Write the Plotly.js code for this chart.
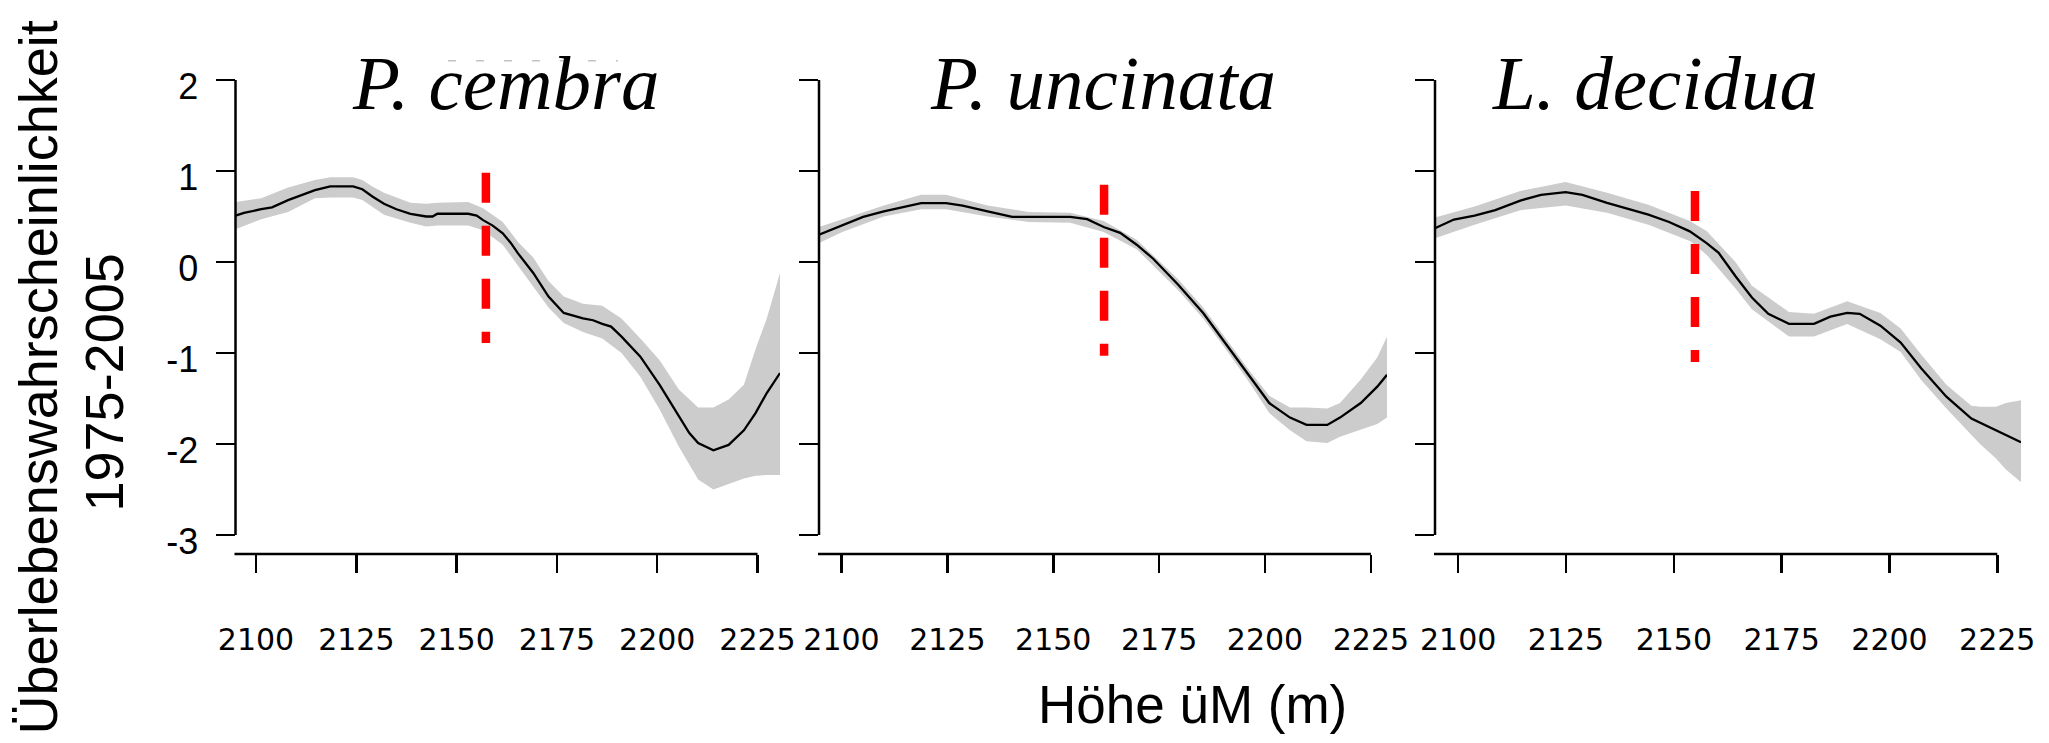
<!DOCTYPE html>
<html><head><meta charset="utf-8">
<script src="https://cdn.plot.ly/plotly-3.0.1.min.js"></script>
<style>html,body{margin:0;padding:0;background:#fff;}</style>
</head><body>
<div id="chart" style="width:2049px;height:743px;"></div>
<script>
// ---------------- DATA ----------------
const speciesNames = ['P. cembra', 'P. uncinata', 'L. decidua'];

// P. cembra: fitted survival curve
const cembraX   = [2094.9,2097,2101.3,2104,2108,2111,2114.7,2118.5,2124.2,2126.5,2129,2131.9,2135,2138.5,2141,2142.4,2144,2145.2,2152.9,2155,2156.6,2159,2161.5,2163.5,2165.3,2169.1,2172.9,2176.7,2181.5,2184,2186.3,2188.5,2191.1,2195.8,2200.6,2205.4,2208,2210.2,2214,2217.8,2221.6,2224.5,2227.3,2230.6];
const cembraFit = [0.51,0.54,0.58,0.60,0.68,0.73,0.79,0.83,0.83,0.80,0.72,0.64,0.58,0.53,0.51,0.50,0.50,0.53,0.53,0.51,0.46,0.40,0.315,0.21,0.095,-0.12,-0.38,-0.56,-0.62,-0.64,-0.68,-0.71,-0.82,-1.04,-1.35,-1.70,-1.88,-1.99,-2.07,-2.01,-1.85,-1.66,-1.44,-1.22];
// P. cembra: confidence band
const cembraBandX = [2094.9,2101.3,2108,2114.7,2118.5,2124.2,2126.5,2129,2131.9,2138.5,2142.4,2145.2,2152.9,2156.6,2161.5,2165.3,2169.1,2172.9,2176.7,2181.5,2186.3,2191.1,2195.8,2200.6,2205.4,2210.2,2214,2217.8,2221.6,2224.5,2227.3,2230.6];
const cembraUpper = [0.66,0.70,0.82,0.90,0.93,0.93,0.90,0.83,0.76,0.65,0.64,0.65,0.66,0.59,0.44,0.22,0.05,-0.21,-0.38,-0.46,-0.48,-0.62,-0.84,-1.08,-1.40,-1.60,-1.60,-1.51,-1.35,-0.96,-0.62,-0.12];
const cembraLower = [0.36,0.47,0.55,0.70,0.71,0.71,0.68,0.61,0.52,0.43,0.39,0.40,0.40,0.35,0.19,-0.04,-0.27,-0.50,-0.67,-0.77,-0.84,-1.00,-1.26,-1.62,-2.03,-2.39,-2.50,-2.44,-2.38,-2.35,-2.34,-2.34];

// P. uncinata
const uncinataX   = [2094.7,2100.2,2105.1,2110,2114.9,2118.8,2124.7,2128.6,2134.5,2140.3,2144.2,2154,2158,2161.9,2165.8,2169.7,2173.6,2179.5,2185.4,2191.2,2196.1,2201,2205.9,2209.8,2214.7,2217.7,2222.6,2226.5,2228.8];
const uncinataFit = [0.30,0.40,0.495,0.557,0.61,0.646,0.646,0.62,0.557,0.495,0.495,0.495,0.47,0.385,0.32,0.19,0.036,-0.25,-0.56,-0.93,-1.24,-1.55,-1.71,-1.79,-1.79,-1.71,-1.55,-1.37,-1.24];
const uncinataBandX = [2094.7,2100.2,2110,2118.8,2124.7,2134.5,2144.2,2154,2161.9,2169.7,2179.5,2185.4,2191.2,2196.1,2201,2205.9,2209.8,2214.7,2217.7,2222.6,2226.5,2228.8];
const uncinataUpper = [0.385,0.47,0.62,0.74,0.74,0.62,0.55,0.54,0.45,0.245,-0.19,-0.50,-0.87,-1.18,-1.47,-1.60,-1.60,-1.61,-1.55,-1.29,-1.05,-0.82];
const uncinataLower = [0.21,0.33,0.50,0.58,0.58,0.50,0.44,0.43,0.33,0.14,-0.31,-0.62,-0.99,-1.31,-1.66,-1.85,-1.97,-1.99,-1.92,-1.84,-1.78,-1.71];

// L. decidua
const deciduaX   = [2094.6,2099,2103.8,2108.6,2114.4,2119.2,2124.9,2128.8,2134.5,2140.3,2144.1,2148.9,2153.7,2157.6,2160.4,2164.3,2168.1,2171.9,2176.7,2182.5,2186.3,2190.2,2193.1,2197.9,2202.6,2207.4,2213.2,2219,2224.7,2230.5];
const deciduaFit = [0.37,0.467,0.51,0.57,0.675,0.737,0.768,0.737,0.65,0.57,0.52,0.44,0.337,0.207,0.10,-0.157,-0.39,-0.57,-0.68,-0.68,-0.60,-0.56,-0.57,-0.70,-0.885,-1.17,-1.48,-1.72,-1.85,-1.98];
const deciduaBandX = [2094.6,2103.8,2114.4,2124.9,2134.5,2144.1,2153.7,2157.6,2164.3,2168.1,2176.7,2182.5,2190.2,2197.9,2202.6,2207.4,2213.2,2219,2221,2224.7,2227,2230.5];
const deciduaUpper = [0.49,0.61,0.78,0.88,0.76,0.63,0.45,0.34,0.00,-0.26,-0.55,-0.57,-0.43,-0.56,-0.73,-1.02,-1.35,-1.58,-1.59,-1.59,-1.55,-1.52];
const deciduaLower = [0.26,0.41,0.57,0.62,0.54,0.41,0.23,0.08,-0.29,-0.52,-0.82,-0.82,-0.68,-0.85,-0.99,-1.30,-1.61,-1.90,-2.00,-2.16,-2.28,-2.42];

// red dashed threshold lines (elevation, top value, bottom value)
const thresholdX      = [2157.3, 2162.0, 2154.9];
const thresholdTop    = [0.98, 0.85, 0.78];
const thresholdBottom = [-0.89, -1.03, -1.10];

// ticks & labels
const xTickVals = [2100, 2125, 2150, 2175, 2200, 2225];
const xTickText = ['2100', '2125', '2150', '2175', '2200', '2225'];
const yTickVals = [-3, -2, -1, 0, 1, 2];
const yTickText = ['-3', '-2', '-1', '0', '1', '2'];
const yTitleLines = ['Überlebenswahrscheinlichkeit', '1975-2005'];
const xTitleText = 'Höhe üM (m)';

// ---------------- LAYOUT GEOMETRY ----------------
const W = 2049, H = 743;
const panelPx = [[235.5, 780], [819, 1387], [1435, 2021]];
const xRanges = [[2094.89, 2230.6], [2094.69, 2228.8], [2094.62, 2230.5]];
const yPx = [554, 80];            // bottom, top (pixels from top)
const yRange = [-3.2088, 2.0];
const titleCx = [506, 1103, 1654.6];

const px2x = p => p / W;
const px2y = p => (H - p) / H;
const yDom = [px2y(yPx[0]), px2y(yPx[1])];
const yValToPaper = v => yDom[0] + (v - yRange[0]) / (yRange[1] - yRange[0]) * (yDom[1] - yDom[0]);

const series = [
  {x: cembraX, fit: cembraFit, bx: cembraBandX, up: cembraUpper, lo: cembraLower},
  {x: uncinataX, fit: uncinataFit, bx: uncinataBandX, up: uncinataUpper, lo: uncinataLower},
  {x: deciduaX, fit: deciduaFit, bx: deciduaBandX, up: deciduaUpper, lo: deciduaLower}
];

const traces = [];
const layout = {
  width: W, height: H,
  margin: {l: 0, r: 0, t: 0, b: 0},
  paper_bgcolor: '#ffffff', plot_bgcolor: '#ffffff',
  showlegend: false,
  shapes: [], annotations: []
};

series.forEach((s, i) => {
  const sfx = i === 0 ? '' : String(i + 1);
  const xa = 'x' + sfx, ya = 'y' + sfx;
  traces.push({x: s.bx, y: s.lo, type: 'scatter', mode: 'lines', line: {width: 0, color: '#cccccc'},
               xaxis: xa, yaxis: ya, hoverinfo: 'skip'});
  traces.push({x: s.bx, y: s.up, type: 'scatter', mode: 'lines', line: {width: 0, color: '#cccccc'},
               fill: 'tonexty', fillcolor: '#cccccc', xaxis: xa, yaxis: ya, hoverinfo: 'skip'});
  traces.push({x: s.x, y: s.fit, type: 'scatter', mode: 'lines', line: {width: 2.3, color: '#000000'},
               xaxis: xa, yaxis: ya});
  traces.push({x: [thresholdX[i], thresholdX[i]], y: [thresholdTop[i], thresholdBottom[i]], type: 'scatter',
               mode: 'lines', line: {width: 8.5, color: '#ff0000', dash: '30px,23px'}, xaxis: xa, yaxis: ya});

  const xDom = [px2x(panelPx[i][0]), px2x(panelPx[i][1])];
  layout['xaxis' + sfx] = {
    domain: xDom, range: xRanges[i], anchor: ya,
    showgrid: false, zeroline: false, showline: false,
    ticks: 'outside', ticklen: 18, tickwidth: 2.5, tickcolor: '#000',
    tickmode: 'array', tickvals: xTickVals, ticktext: xTickText,
    tickfont: {family: 'DejaVu Sans', size: 30, color: '#000'},
    ticklabelstandoff: 41, fixedrange: true
  };
  layout['yaxis' + sfx] = {
    domain: yDom, range: yRange, anchor: xa,
    showgrid: false, zeroline: false, showline: false,
    ticks: 'outside', ticklen: 19, tickwidth: 2.5, tickcolor: '#000',
    tickmode: 'array', tickvals: yTickVals, ticktext: yTickText,
    showticklabels: i === 0,
    tickfont: {family: 'Liberation Sans', size: 36, color: '#000'},
    ticklabelstandoff: 10, ticklabelshift: 6, fixedrange: true
  };
  // R-style axis lines
  const scale = (xDom[1] - xDom[0]) / (xRanges[i][1] - xRanges[i][0]);
  const xLast = xDom[0] + (xTickVals[xTickVals.length - 1] - xRanges[i][0]) * scale;
  layout.shapes.push({type: 'line', xref: 'paper', yref: 'paper', x0: xDom[0], x1: xDom[0],
    y0: yValToPaper(yTickVals[0]), y1: yValToPaper(yTickVals[yTickVals.length - 1]),
    line: {color: '#000', width: 2.5}});
  layout.shapes.push({type: 'line', xref: 'paper', yref: 'paper', x0: xDom[0] - 0.0005, x1: xLast,
    y0: yDom[0], y1: yDom[0], line: {color: '#000', width: 2.5}});
  // species title
  layout.annotations.push({text: speciesNames[i], xref: 'paper', yref: 'paper',
    x: px2x(titleCx[i]), y: px2y(82.6), xanchor: 'center', yanchor: 'middle', showarrow: false,
    font: {family: 'Liberation Serif', size: 77, style: 'italic', color: '#000'}});
});

// faint dotted artefact above first title
layout.shapes.push({type: 'line', xref: 'paper', yref: 'paper', x0: px2x(448), x1: px2x(618),
  y0: px2y(60.7), y1: px2y(60.7), line: {color: '#c4c4c4', width: 1.5, dash: '8px,20px'}});

// y title (two lines)
layout.annotations.push({text: yTitleLines[0], xref: 'paper', yref: 'paper', x: px2x(37.5), y: px2y(378),
  xanchor: 'center', yanchor: 'middle', textangle: -90, showarrow: false,
  font: {family: 'Liberation Sans', size: 54, color: '#000'}});
layout.annotations.push({text: yTitleLines[1], xref: 'paper', yref: 'paper', x: px2x(103.5), y: px2y(383),
  xanchor: 'center', yanchor: 'middle', textangle: -90, showarrow: false,
  font: {family: 'Liberation Sans', size: 54, color: '#000'}});
// x title
layout.annotations.push({text: xTitleText, xref: 'paper', yref: 'paper', x: px2x(1192.5), y: px2y(704.3),
  xanchor: 'center', yanchor: 'middle', showarrow: false,
  font: {family: 'Liberation Sans', size: 53, color: '#000'}});

Plotly.newPlot('chart', traces, layout, {staticPlot: true, displayModeBar: false});
</script>
</body></html>
